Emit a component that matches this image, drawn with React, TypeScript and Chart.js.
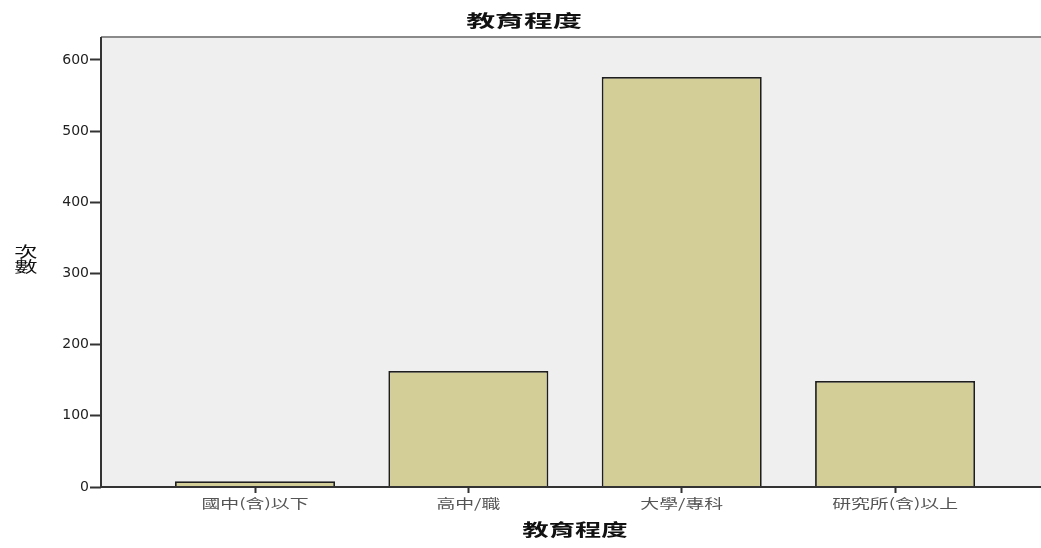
import React, { useEffect, useRef } from "react";
import { Chart, registerables } from "chart.js";

Chart.register(...registerables);

const categories = ["國中(含)以下", "高中/職", "大學/專科", "研究所(含)以上"];
const counts = [8, 163, 576, 149];
const yTicks = [0, 100, 200, 300, 400, 500, 600];
const chartTitle = "教育程度";
const xTitle = "教育程度";
const yTitle = ["次", "數"];

const FONT = "'Liberation Sans', 'Noto Sans CJK TC', sans-serif";
const CJK = "'Noto Sans CJK TC', 'Liberation Sans', sans-serif";

function stretchText(ctx: any, text: string, x: number, y: number, sx: number) {
  ctx.save();
  ctx.translate(x, y);
  ctx.scale(sx, 1);
  ctx.fillText(text, 0, 0);
  ctx.restore();
}

const decorPlugin = {
  id: "decor",
  beforeDraw(chart: any) {
    const { ctx, chartArea: a } = chart;
    ctx.save();
    ctx.fillStyle = "#efefef";
    ctx.fillRect(a.left, a.top, a.right - a.left, a.bottom - a.top);
    ctx.restore();
  },
  afterDraw(chart: any) {
    const { ctx, chartArea: a } = chart;
    ctx.save();
    // top border
    ctx.strokeStyle = "#8a8a8a";
    ctx.lineWidth = 2;
    ctx.beginPath();
    ctx.moveTo(a.left, a.top);
    ctx.lineTo(a.right, a.top);
    ctx.stroke();
    // left + bottom axis lines
    ctx.strokeStyle = "#333";
    ctx.lineWidth = 2;
    ctx.beginPath();
    ctx.moveTo(a.left, a.top);
    ctx.lineTo(a.left, a.bottom);
    ctx.lineTo(a.right, a.bottom);
    ctx.stroke();
    // category labels, placed by the x scale
    const xs = chart.scales.x;
    ctx.fillStyle = "#555";
    ctx.textAlign = "center";
    ctx.textBaseline = "middle";
    ctx.font = `13px ${CJK}`;
    categories.forEach((c, i) => {
      stretchText(ctx, c, xs.getPixelForValue(i), 503, 1.45);
    });
    // titles
    ctx.fillStyle = "#111";
    ctx.font = `bold 17px ${CJK}`;
    stretchText(ctx, chartTitle, 524, 21, 1.7);
    stretchText(ctx, xTitle, 575, 530, 1.55);
    ctx.font = `15px ${CJK}`;
    stretchText(ctx, yTitle[0], 26, 251, 1.55);
    stretchText(ctx, yTitle[1], 26, 266, 1.55);
    ctx.restore();
  },
};

export default function App() {
  const ref = useRef<HTMLCanvasElement>(null);
  useEffect(() => {
    if (!ref.current) return;
    const chart = new Chart(ref.current, {
      type: "bar",
      data: {
        datasets: [
          {
            data: counts.map((v, i) => ({ x: i, y: v })),
            backgroundColor: "#d3ce97",
            borderColor: "#1e1e1e",
            borderWidth: 1.8,
            barPercentage: 0.75,
            categoryPercentage: 1,
          },
        ],
      },
      options: {
        responsive: false,
        animation: false,
        layout: { padding: { top: 37, left: 0, right: 0, bottom: 0 } },
        plugins: { legend: { display: false }, title: { display: false }, tooltip: { enabled: false } },
        scales: {
          x: {
            type: "linear",
            offset: false,
            min: -0.7219,
            max: 3.684,
            afterBuildTicks: (scale: any) => {
              scale.ticks = categories.map((_, i) => ({ value: i }));
            },
            afterFit: (scale: any) => {
              scale.height = 61;
              scale.paddingLeft = 0;
              scale.paddingRight = 0;
            },
            grid: { offset: false, drawOnChartArea: false, tickLength: 6, tickColor: "#333", tickWidth: 2 },
            border: { display: false },
            ticks: { display: false },
          },
          y: {
            min: 0,
            max: 632.3,
            afterBuildTicks: (scale: any) => {
              scale.ticks = yTicks.map((v) => ({ value: v }));
            },
            afterFit: (scale: any) => {
              scale.width = 101;
            },
            grid: { drawOnChartArea: false, tickLength: 11, tickColor: "#333", tickWidth: 2 },
            border: { display: false },
            ticks: {
              color: "#222",
              font: { family: "'DejaVu Sans', sans-serif", size: 14 },
              padding: 1,
            },
          },
        },
      },
      plugins: [decorPlugin],
    });
    return () => chart.destroy();
  }, []);
  return (
    <div style={{ position: "absolute", left: 0, top: 0, width: 1041, height: 548, background: "#fff" }}>
      <canvas ref={ref} width={1041} height={548} />
    </div>
  );
}
